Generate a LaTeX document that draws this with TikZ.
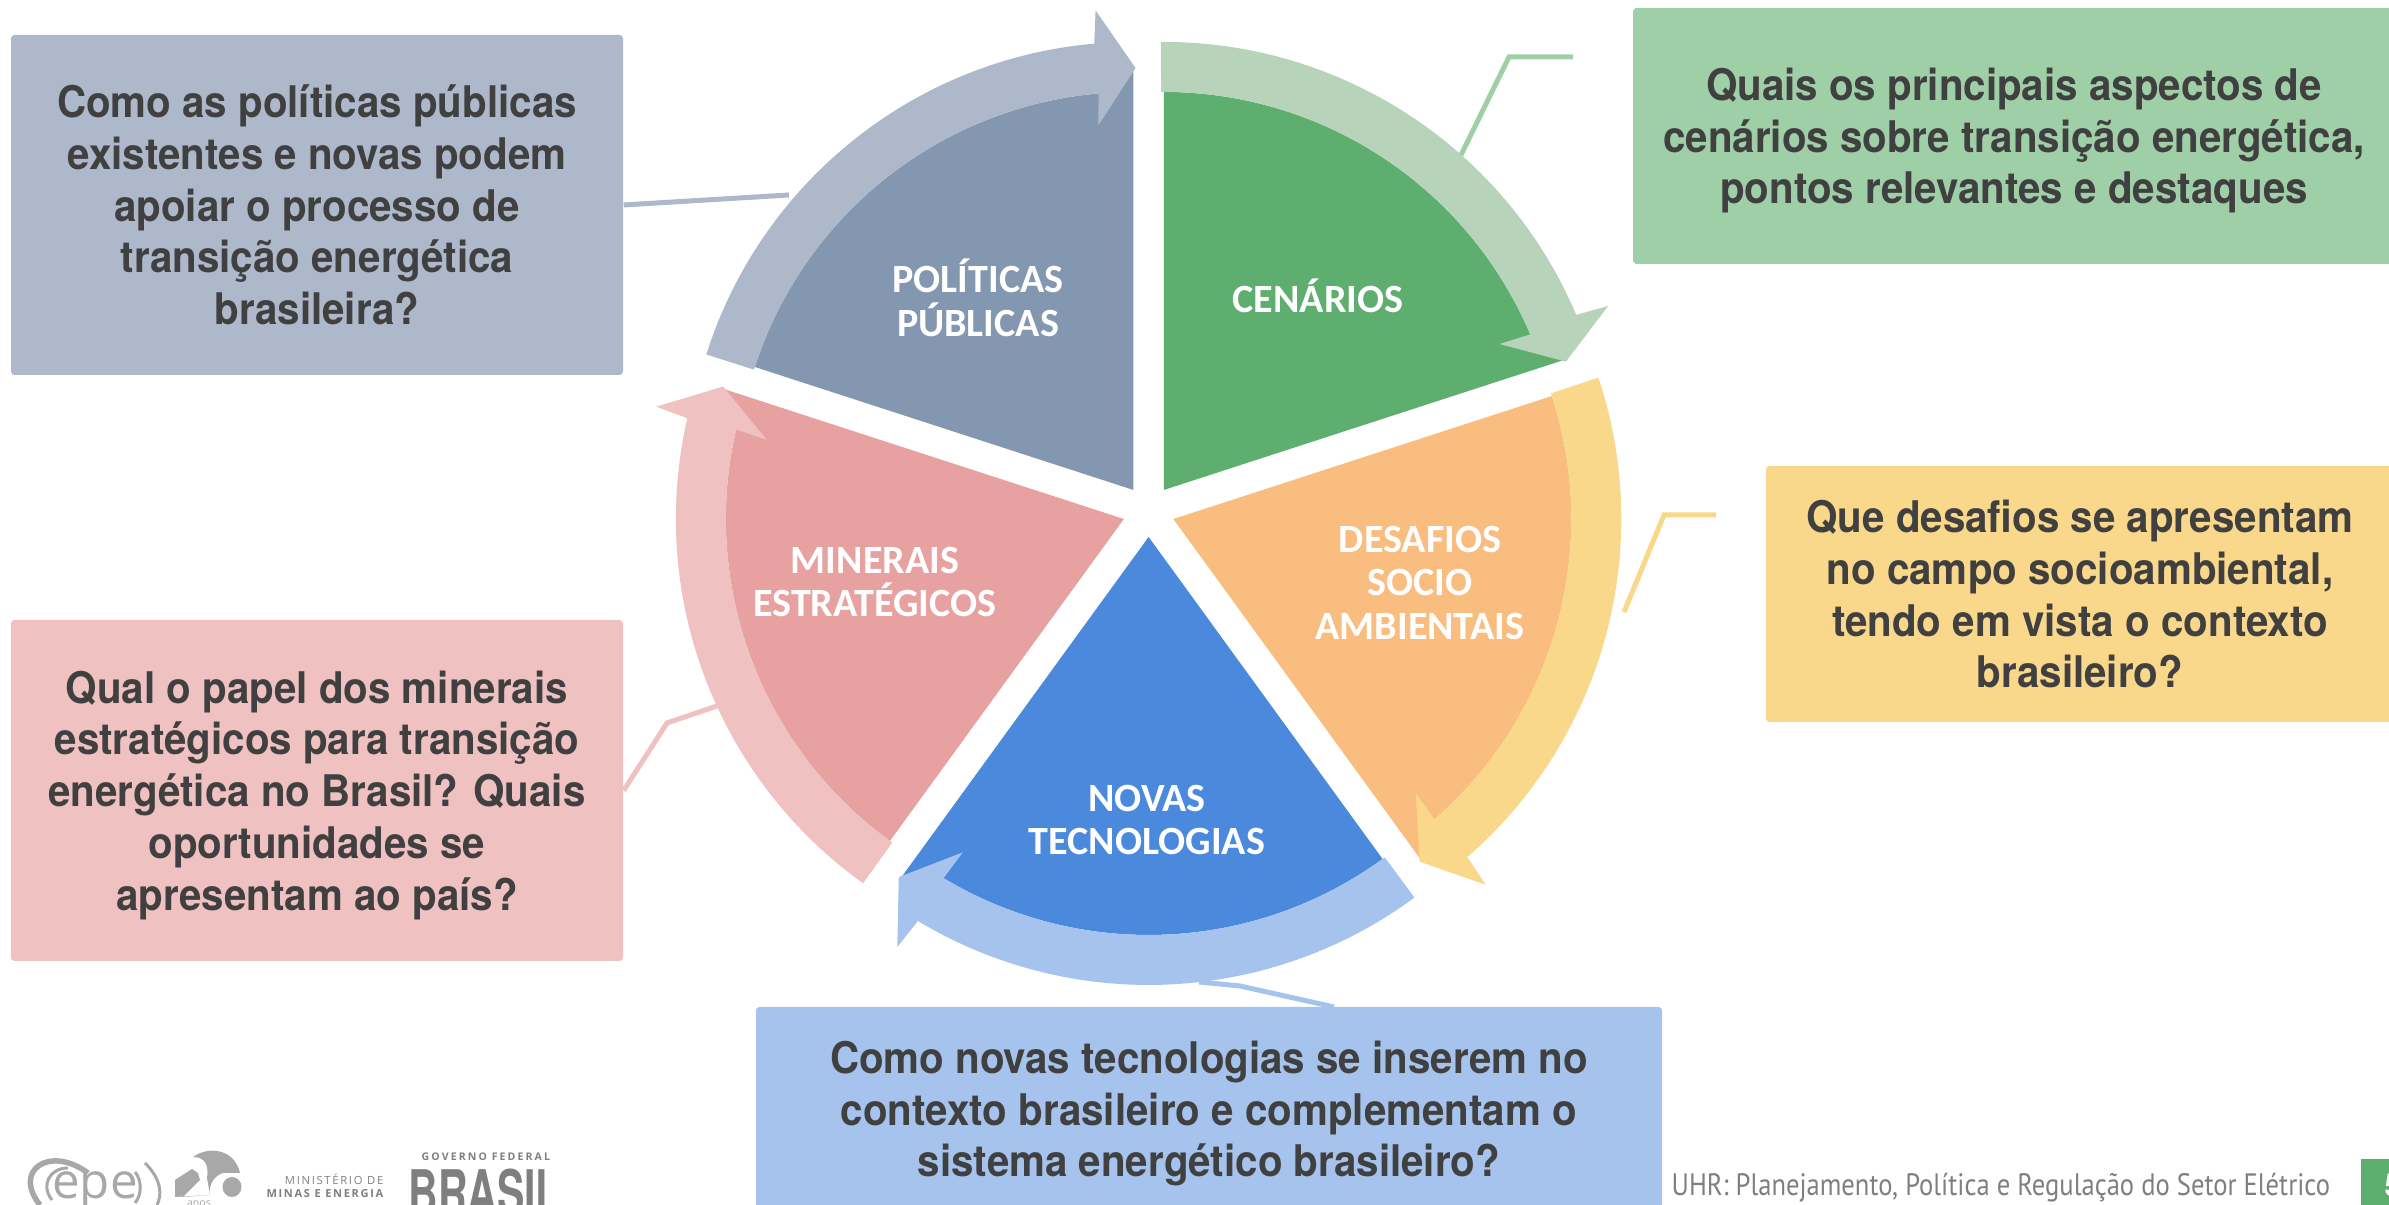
\documentclass[tikz,border=0pt]{standalone}
\usepackage{fontspec}
\setmainfont[FakeStretch=0.925]{TeX Gyre Heros}
\newfontfamily\rotulofont{Carlito}
\newfontfamily\rodapefont[FakeStretch=0.86]{PT Sans}
\newfontfamily\logofont{Open Sans}
\definecolor{verdeSetor}{HTML}{5EAF6F}
\definecolor{verdeSeta}{HTML}{B7D3BA}
\definecolor{verdeCaixa}{HTML}{9FCFA6}
\definecolor{azulSetor}{HTML}{4A89DC}
\definecolor{azulCaixa}{HTML}{A5C3EC}
\definecolor{ardosiaSetor}{HTML}{8497B0}
\definecolor{ardosiaCaixa}{HTML}{ADB9CA}
\definecolor{laranjaSetor}{HTML}{F9BD80}
\definecolor{amareloCaixa}{HTML}{F9D78B}
\definecolor{rosaSetor}{HTML}{E7A1A1}
\definecolor{rosaCaixa}{HTML}{F0C1C1}
\definecolor{textoEscuro}{HTML}{404040}
\definecolor{cinzaLogo}{HTML}{A8A8A8}
\definecolor{cinzaMarca}{HTML}{7F7F7F}
\newcommand{\altoCaixa}{\rule{0pt}{12.2pt}}
\newcommand{\baixoCaixa}{\rule[-3pt]{0pt}{3pt}}
\tikzset{
    caixa/.style={rectangle, rounded corners=1pt, align=center, text=textoEscuro, font=\fontsize{12.4}{14.74}\selectfont\bfseries},
    rotulo/.style={align=center, text=white, font=\rotulofont\fontsize{11.4}{12.5}\selectfont\bfseries},
    ligacao/.style={line width=0.05cm},
    logo/.style={inner sep=0pt, text=cinzaMarca},
    pics/setor/.style 2 args={code={
        \begin{scope}[shift={(54:0.26)}]
            \fill[#1] (0,0) -- (90:3.98) arc[start angle=90, end angle=20, radius=3.98] -- (18:4.22) -- cycle;
            \fill[#2] (90.4:3.98) arc[start angle=90.4, end angle=23, radius=3.98] -- (23.5:3.66) -- (17.7:4.22) -- (22.5:4.81) -- (23:4.48) arc[start angle=23, end angle=90.4, radius=4.48] -- cycle;
        \end{scope}
    }}
}

\begin{document}
\begin{tikzpicture}
        \useasboundingbox (0,0) rectangle (23.89,12.05);
        \coordinate (pie) at (11.486,6.94);

        \node[caixa, fill=ardosiaCaixa, minimum width=6.12cm, minimum height=3.4cm] (caixaPoliticas) at (3.17,10.0) {\altoCaixa Como as políticas públicas\\existentes e novas podem\\apoiar o processo de\\transição energética\\brasileira?\baixoCaixa};
        \node[caixa, fill=verdeCaixa, minimum width=7.62cm, minimum height=2.56cm] (caixaCenarios) at (20.14,10.69) {\altoCaixa Quais os principais aspectos de\\cenários sobre transição energética,\\pontos relevantes e destaques\baixoCaixa};
        \node[caixa, fill=amareloCaixa, minimum width=6.28cm, minimum height=2.56cm] (caixaDesafios) at (20.80,6.11) {\altoCaixa Que desafios se apresentam\\no campo socioambiental,\\tendo em vista o contexto\\brasileiro?\baixoCaixa};
        \node[caixa, fill=rosaCaixa, minimum width=6.12cm, minimum height=3.41cm] (caixaMinerais) at (3.17,4.145) {\altoCaixa Qual o papel dos minerais\\estratégicos para transição\\energética no Brasil? Quais\\oportunidades se\\apresentam ao país?\baixoCaixa};
        \node[caixa, fill=azulCaixa, minimum width=9.06cm, minimum height=2.04cm] (caixaNovas) at (12.09,0.96) {\altoCaixa Como novas tecnologias se inserem no\\contexto brasileiro e complementam o\\sistema energético brasileiro?\baixoCaixa};

        \coordinate (bandaCenarios) at (14.61,10.50);
        \coordinate (cantoCenarios) at (15.09,11.48);
        \coordinate (fimCenarios) at (15.73,11.48);
        \coordinate (bandaDesafios) at (16.24,5.93);
        \coordinate (cantoDesafios) at (16.64,6.90);
        \coordinate (fimDesafios) at (17.16,6.90);
        \coordinate (bandaPoliticas) at (7.89,10.10);
        \coordinate (cantoMinerais) at (6.67,4.82);
        \coordinate (bandaMinerais) at (7.17,4.99);
        \coordinate (bandaNovas) at (11.99,2.23);
        \coordinate (cantoNovas) at (12.40,2.19);
        \coordinate (fimNovas) at (13.34,1.98);
        \draw[ligacao, verdeCaixa] (bandaCenarios) -- (cantoCenarios) -- (fimCenarios);
        \draw[ligacao, amareloCaixa] (bandaDesafios) -- (cantoDesafios) -- (fimDesafios);
        \draw[ligacao, ardosiaCaixa] (caixaPoliticas.east) -- (bandaPoliticas);
        \draw[ligacao, rosaCaixa] (caixaMinerais.east) -- (cantoMinerais) -- (bandaMinerais);
        \draw[ligacao, azulCaixa] (bandaNovas) -- (cantoNovas) -- (fimNovas);

        \pic at (pie) {setor={verdeSetor}{verdeSeta}};
        \pic[rotate=-72] at (pie) {setor={laranjaSetor}{amareloCaixa}};
        \pic[rotate=-144] at (pie) {setor={azulSetor}{azulCaixa}};
        \pic[rotate=144] at (pie) {setor={rosaSetor}{rosaCaixa}};
        \pic[rotate=72] at (pie) {setor={ardosiaSetor}{ardosiaCaixa}};

        \node[rotulo] (politicas) at (9.78,9.07) {POLÍTICAS\\PÚBLICAS};
        \node[rotulo] (cenarios) at (13.18,9.09) {CENÁRIOS};
        \node[rotulo] (desafios) at (14.20,6.22) {DESAFIOS\\SOCIO\\AMBIENTAIS};
        \node[rotulo] (novas) at (11.47,3.85) {NOVAS\\TECNOLOGIAS};
        \node[rotulo] (minerais) at (8.75,6.23) {MINERAIS\\ESTRATÉGICOS};

        \node[anchor=west, inner sep=0pt, text=cinzaMarca, font=\rodapefont\fontsize{8.8}{10}\selectfont] (rodape) at (16.71,0.17) {UHR: Planejamento, Política e Regulação do Setor Elétrico};
        \fill[verdeSetor] (23.61,0) rectangle (23.89,0.46);
        \node[anchor=west, inner sep=0pt, text=white, font=\fontsize{9}{10}\selectfont\bfseries] (pagina) at (23.84,0.2) {5};

        \draw[cinzaLogo, line width=0.055cm] (0.40,0) .. controls (0.12,0.35) and (0.50,0.60) .. (0.88,0.32);
        \draw[cinzaLogo, line width=0.03cm] (0.52,0.05) .. controls (0.40,0.20) and (0.50,0.37) .. (0.68,0.37);
        \draw[cinzaLogo, line width=0.03cm] (1.35,0.33) .. controls (1.42,0.25) and (1.42,0.10) .. (1.35,0.02);
        \draw[cinzaLogo, line width=0.03cm] (1.45,0.42) .. controls (1.62,0.25) and (1.62,0.10) .. (1.57,0);
        \node[logo, anchor=base, text=cinzaLogo, font=\logofont\fontsize{14}{15}\selectfont] (epe) at (0.95,0.06) {epe};
        \fill[cinzaLogo] (1.75,0.25) -- (1.92,0.36) -- (1.98,0.32) -- (2.0,0.25) -- (1.83,0.08) -- (2.10,0.10) -- (2.07,0.27) .. controls (2.10,0.45) and (2.0,0.48) .. (1.93,0.48) .. controls (2.10,0.60) and (2.35,0.55) .. (2.40,0.32) -- (2.23,0.32) .. controls (2.15,0.30) and (2.08,0.20) .. (2.10,0.10) -- (1.75,0.08) -- cycle;
        \fill[cinzaLogo] (2.32,0.18) ellipse (0.095 and 0.10);
        \node[logo, text=cinzaLogo, font=\logofont\fontsize{3}{3}\selectfont] (anos) at (1.99,0.01) {anos};
        \node[logo, anchor=east, text=cinzaMarca, font=\logofont\fontsize{3.2}{4}\selectfont\addfontfeature{LetterSpace=15}] (ministerio) at (3.84,0.26) {MINISTÉRIO DE};
        \node[logo, anchor=east, text=cinzaMarca, font=\logofont\fontsize{3.15}{4}\selectfont\bfseries\addfontfeature{LetterSpace=15}] (minas) at (3.84,0.11) {MINAS E ENERGIA};
        \node[logo, anchor=west, text=cinzaMarca, font=\logofont\fontsize{3.0}{4}\selectfont\bfseries\addfontfeature{LetterSpace=20}] (governo) at (4.21,0.48) {GOVERNO FEDERAL};
        \node[logo, anchor=north west, xscale=0.72, transform shape, font=\fontsize{17.5}{18}\selectfont\bfseries] (brasil) at (4.08,0.37) {BRASIL};
    \end{tikzpicture}
\end{document}
